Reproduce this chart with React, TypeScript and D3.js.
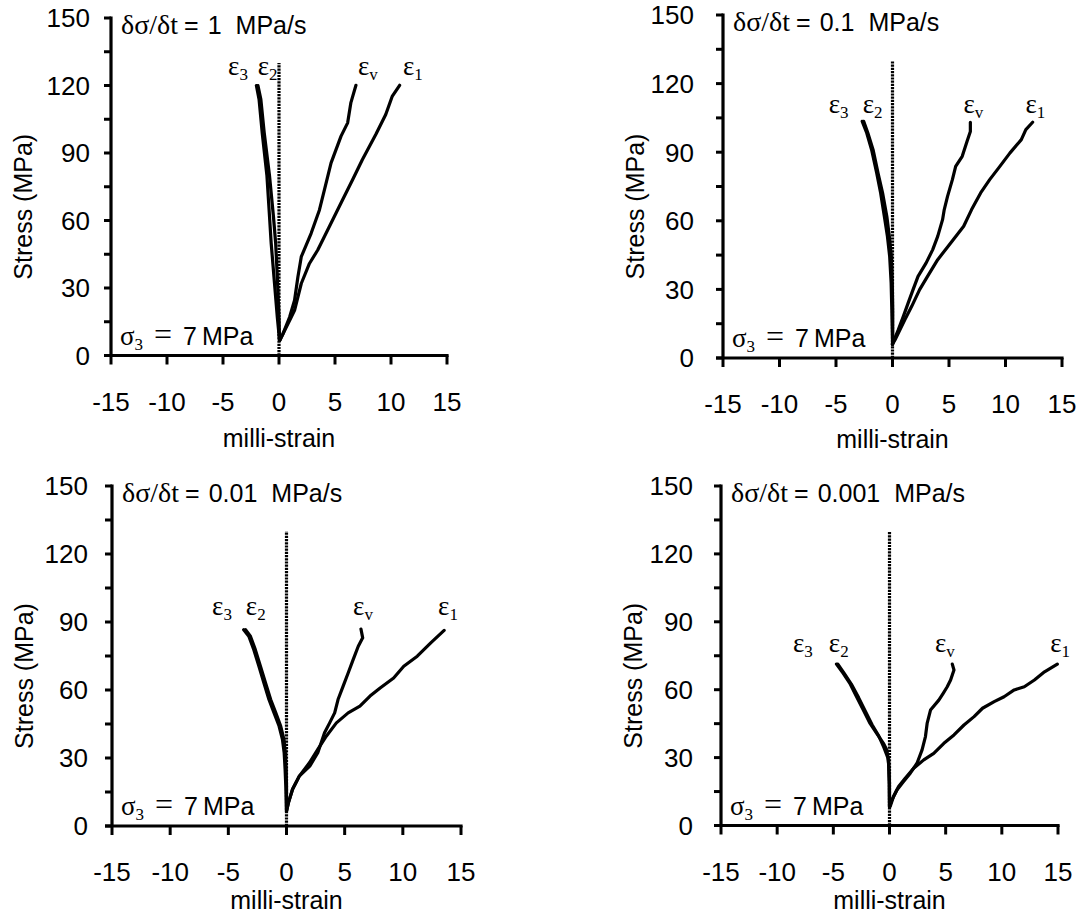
import React from 'react';
import * as d3 from 'd3';

type Pt = [number, number];

// ---------- data (milli-strain, stress MPa) ----------
const RATES = ['1', '0.1', '0.01', '0.001'];
const CONFINING = '7';
const X_TICKS = [-15, -10, -5, 0, 5, 10, 15];
const Y_TICKS = [0, 30, 60, 90, 120, 150];
const Y_MINOR = [15, 45, 75, 105, 135];
const ZERO_LINE_TOP = 130;

// rate 1 MPa/s
const r1_e1: Pt[] = [[0.06,6.7],[0.36,9.7],[1.1,17.1],[1.39,20.1],[1.99,32],[2.72,40.9],[3.46,46.9],[4.5,57.3],[5.68,69.2],[6.57,78.1],[7.45,87.1],[8.64,98.2],[9.53,107.1],[10.12,115.3],[10.77,120.1]];
const r1_ev: Pt[] = [[0.06,6.7],[0.36,9.7],[0.95,17.1],[1.39,24.6],[1.69,35],[1.99,43.9],[2.87,54.3],[3.61,64.7],[4.06,73.7],[4.65,85.6],[5.54,97.5],[6.13,103.4],[6.42,112.4],[6.87,120.1]];
const r1_e3: Pt[] = [[0.05,6.7],[-0.15,17],[-0.45,35],[-0.7,50],[-0.85,62],[-1.08,80],[-1.5,99],[-1.78,113.8],[-2.02,120]];
const r1_e2: Pt[] = [[0.05,6.7],[0,17],[-0.15,35],[-0.3,50],[-0.5,62],[-0.85,80],[-1.32,99],[-1.62,113.8],[-1.88,120]];

// rate 0.1 MPa/s
const r2_e1: Pt[] = [[0,6],[0.23,8],[0.67,12.4],[1.1,16.8],[1.7,22.6],[2.4,29.9],[3.1,35.7],[4.0,43],[5.15,50.3],[6.3,57.6],[7.0,64.9],[7.8,72.2],[8.6,78],[9.5,83.8],[10.4,89.7],[11.4,95.5],[11.8,99.9],[12.4,103.1]];
const r2_ev: Pt[] = [[0,6],[0.09,7.3],[0.52,12.4],[0.96,18.2],[1.39,24.1],[1.82,29.9],[2.26,35.7],[2.98,41.6],[3.56,47.4],[4.0,53.2],[4.43,60.5],[4.58,64.9],[4.87,70.7],[5.3,78],[5.59,83.8],[6.17,88.2],[6.6,94.8],[6.89,99.1],[6.89,103.1]];
const r2_e3: Pt[] = [[0,6],[0,8],[-0.06,21.1],[-0.12,32.8],[-0.25,44.4],[-0.45,53.2],[-0.72,61.9],[-1.05,72.2],[-1.4,80.9],[-1.85,91.1],[-2.28,98.4],[-2.68,103.5]];
const r2_e2: Pt[] = [[0,6],[0.02,8],[0.02,21.1],[-0.02,32.8],[-0.1,44.4],[-0.28,53.2],[-0.5,61.9],[-0.88,72.2],[-1.28,80.9],[-1.72,91.1],[-2.18,98.4],[-2.55,103.5]];

// rate 0.01 MPa/s
const r3_e1: Pt[] = [[0,6.6],[0.17,10.3],[0.52,16.2],[1.1,22],[1.97,27.9],[2.69,33.8],[3.42,39.6],[4.29,45.5],[5.3,49.9],[6.31,52.9],[7.18,57.3],[8.05,60.9],[9.21,65.3],[10.08,70.5],[11.24,74.9],[12.4,80.8],[13.55,86.3]];
const r3_ev: Pt[] = [[0,6.6],[0.17,10.3],[0.52,16.2],[1.1,22],[2.0,26.4],[2.69,32.3],[3.27,41.1],[3.71,45.5],[4.14,49.9],[4.43,55.8],[4.87,61.7],[5.3,67.5],[5.73,73.4],[6.17,79.3],[6.55,83],[6.4,86.9]];
const r3_e3: Pt[] = [[0,6.6],[-0.06,17.6],[-0.12,25],[-0.2,32.3],[-0.35,38.2],[-0.64,44.1],[-1.07,49.9],[-1.51,55.8],[-1.94,63.1],[-2.37,70.5],[-2.81,77.8],[-3.24,83.7],[-3.68,86.6]];
const r3_e2: Pt[] = [[0,6.6],[0,17.6],[-0.03,25],[-0.1,32.3],[-0.22,38.2],[-0.5,44.1],[-0.92,49.9],[-1.36,55.8],[-1.8,63.1],[-2.24,70.5],[-2.68,77.8],[-3.1,83.7],[-3.52,86.6]];

// rate 0.001 MPa/s
const r4_e1: Pt[] = [[0.06,8.4],[0.36,12.8],[0.81,17.2],[1.4,20.9],[2.15,25.3],[3.05,29],[3.94,31.9],[4.84,36.3],[5.74,40],[6.63,44.4],[7.53,48.1],[8.28,51.8],[9.32,54.7],[10.2,56.9],[11.1,59.9],[12.0,61.3],[12.9,64.3],[13.8,67.9],[14.94,71.3]];
const r4_ev: Pt[] = [[0,8.4],[0.21,11.3],[0.66,15.7],[1.25,19.4],[1.85,23.1],[2.45,27.5],[2.9,33.4],[3.2,39.3],[3.35,45.1],[3.65,51],[4.39,55.4],[4.78,58.4],[5.14,61.3],[5.44,64.3],[5.74,68.7],[5.59,71.3]];
const r4_e3: Pt[] = [[0,8.4],[-0.03,18.7],[-0.09,29],[-0.24,33.4],[-0.54,36.3],[-1.14,40.7],[-1.73,45.1],[-2.33,51],[-2.93,56.9],[-3.53,62.8],[-4.12,67.2],[-4.72,71.3]];
const r4_e2: Pt[] = [[0,8.4],[0,18.7],[-0.05,26],[-0.15,30],[-0.5,34.5],[-0.95,39.5],[-1.55,44.5],[-2.15,50.5],[-2.75,56.5],[-3.4,62.5],[-4.0,67],[-4.6,71.3]];

// curve labels: [subscript, x (milli-strain), stress]
const r1_labels: [string, number, number][] = [['3',-4.55,124.7],['2',-1.9,124.7],['v',7.05,124.7],['1',11.07,124.7]];
const r2_labels: [string, number, number][] = [['3',-5.64,107],['2',-2.64,107],['v',6.28,107],['1',11.77,107]];
const r3_labels: [string, number, number][] = [['3',-6.4,93],['2',-3.5,93],['v',5.72,93],['1',13.03,93]];
const r4_labels: [string, number, number][] = [['3',-8.6,76.8],['2',-5.4,76.8],['v',4.05,76.8],['1',14.3,76.8]];

const SERIES = [
  [r1_e1, r1_ev, r1_e3, r1_e2],
  [r2_e1, r2_ev, r2_e3, r2_e2],
  [r3_e1, r3_ev, r3_e3, r3_e2],
  [r4_e1, r4_ev, r4_e3, r4_e2],
];
const LABELS = [r1_labels, r2_labels, r3_labels, r4_labels];

// ---------- layout ----------
const LAYOUT = [
  { left: 111, right: 447, bottom: 355.5, top: 18, yGap: 21, xTitle: 91 },
  { left: 723, right: 1062, bottom: 358, top: 15, yGap: 29, xTitle: 90 },
  { left: 112, right: 461, bottom: 826, top: 486, yGap: 24, xTitle: 83 },
  { left: 721, right: 1058, bottom: 825.5, top: 486, yGap: 28, xTitle: 83 },
];

const SANS = '"Liberation Sans", Arial, sans-serif';
const SERIF = '"Liberation Serif", "Times New Roman", serif';

function Panel({ idx }: { idx: number }) {
  const L = LAYOUT[idx];
  const xs = d3.scaleLinear().domain([-15, 15]).range([L.left, L.right]);
  const ys = d3.scaleLinear().domain([0, 150]).range([L.bottom, L.top]);
  const line = d3.line<Pt>().x(d => xs(d[0])).y(d => ys(d[1]));
  const midY = (L.top + L.bottom) / 2 + 20;
  return (
    <g>
      {/* curve labels (under the zero line, as in the original) */}
      {LABELS[idx].map(([sub, x, s]) => (
        <text key={'lab' + sub} x={xs(x)} y={ys(s)} fontFamily={SERIF} fontSize={27}>
          ε<tspan fontSize={17} dy={5}>{sub}</tspan>
        </text>
      ))}
      {/* curves */}
      {SERIES[idx].map((s, i) => (
        <path key={i} d={line(s) || ''} fill="none" stroke="#000" strokeWidth={3.2}
          strokeLinejoin="round" strokeLinecap="round" />
      ))}
      {/* zero line */}
      <line x1={xs(0)} x2={xs(0)} y1={ys(0)} y2={ys(ZERO_LINE_TOP)} stroke="#000"
        strokeWidth={3.2} strokeDasharray="2.2 1" />
      {/* axes */}
      <line x1={L.left} x2={L.left} y1={ys(150) - 1.5} y2={L.bottom} stroke="#000" strokeWidth={3.2} />
      <line x1={L.left - 7} x2={L.right + 1.6} y1={L.bottom} y2={L.bottom} stroke="#000" strokeWidth={3.2} />
      {[...Y_TICKS, ...Y_MINOR].map(t => (
        <line key={'yt' + t} x1={L.left - 7} x2={L.left} y1={ys(t)} y2={ys(t)} stroke="#000" strokeWidth={3} />
      ))}
      {X_TICKS.map(t => (
        <line key={'xt' + t} x1={xs(t)} x2={xs(t)} y1={L.bottom} y2={L.bottom + 9} stroke="#000" strokeWidth={3} />
      ))}
      {Y_TICKS.map(t => (
        <text key={'yl' + t} x={L.left - L.yGap} y={ys(t)} dy="0.36em" textAnchor="end"
          fontFamily={SANS} fontSize={26}>{String(t)}</text>
      ))}
      {X_TICKS.map(t => (
        <text key={'xl' + t} x={xs(t)} y={L.bottom + 55} textAnchor="middle"
          fontFamily={SANS} fontSize={26}>{String(t)}</text>
      ))}
      <text x={xs(0)} y={L.bottom + L.xTitle} textAnchor="middle" fontFamily={SANS} fontSize={25}>milli-strain</text>
      <text transform={`translate(${L.left - 79},${midY}) rotate(-90)`} textAnchor="middle"
        fontFamily={SANS} fontSize={25}>Stress (MPa)</text>
      {/* rate annotation */}
      <text x={L.left + 10} y={L.top + 16}>
        <tspan fontFamily={SERIF} fontSize={28}>δσ/δt</tspan>
        <tspan fontFamily={SANS} fontSize={25} dx={6}>=</tspan>
        <tspan fontFamily={SANS} fontSize={25} dx={9}>{RATES[idx]}</tspan>
        <tspan fontFamily={SANS} fontSize={25} dx={14}>MPa/s</tspan>
      </text>
      {/* confining */}
      <text x={L.left + 9} y={L.bottom - 11}>
        <tspan fontFamily={SERIF} fontSize={27}>σ</tspan>
        <tspan fontFamily={SERIF} fontSize={17} dy={5}>3</tspan>
        <tspan fontFamily={SERIF} fontSize={32} dy={-5} dx={11}>=</tspan>
        <tspan fontFamily={SANS} fontSize={25} dx={11}>{CONFINING}</tspan>
        <tspan fontFamily={SANS} fontSize={25} dx={5}>MPa</tspan>
      </text>
    </g>
  );
}

export default function App() {
  return (
    <svg width={1088} height={915} style={{ position: 'absolute', left: 0, top: 0, background: '#fff' }}>
      <rect width={1088} height={915} fill="#fff" />
      {[0, 1, 2, 3].map(i => <Panel key={i} idx={i} />)}
    </svg>
  );
}
